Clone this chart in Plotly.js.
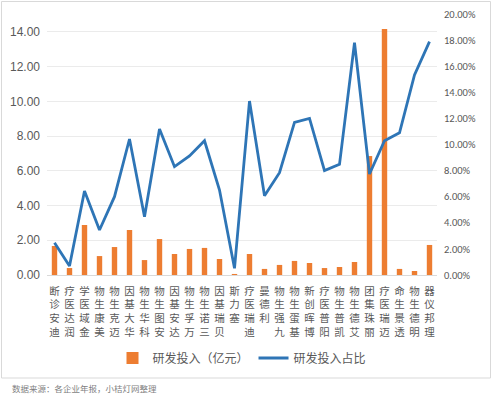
<!DOCTYPE html>
<html>
<head>
<meta charset="utf-8">
<script src="https://cdn.plot.ly/plotly-3.0.1.min.js"></script>
<style>
html,body{margin:0;padding:0;background:#fff;}
#chart{width:493px;height:398px;}
</style>
</head>
<body>
<div id="chart"></div>
<script>
var companies = ["迪安诊断","润达医疗","金域医学","美康生物","迈克生物","华大基因","科华生物","安图生物","达安基因","万孚生物","三诺生物","贝瑞基因","塞力斯","迪瑞医疗","利德曼","九强生物","基蛋生物","博晖创新","阳普医疗","凯普生物","艾德生物","丽珠集团","迈瑞医疗","透景生命","明德生物","理邦仪器"];
var rdInvest = [1.67,0.40,2.88,1.09,1.61,2.59,0.86,2.07,1.21,1.50,1.56,0.92,0.06,1.21,0.35,0.58,0.81,0.69,0.40,0.46,0.75,6.85,14.17,0.35,0.23,1.73];
var rdRatio = [0.0247,0.0069,0.0644,0.0345,0.0600,0.1042,0.0447,0.1119,0.0830,0.0912,0.1029,0.0651,0.0051,0.1333,0.0608,0.0784,0.1170,0.1200,0.0800,0.0848,0.1780,0.0774,0.1029,0.1090,0.1533,0.1788];
var legendNames = ["研发投入（亿元）","研发投入占比"];
var sourceNote = "数据来源：各企业年报，小桔灯网整理";

// labels are stacked upright, reading from bottom to top
var tickLabels = companies.map(function(c){ return c.split("").reverse().join("<br>"); });
var cjk = '"Noto Sans CJK SC", "Noto Sans", sans-serif';

var traces = [
  {type:"bar", name:legendNames[0], x:companies, y:rdInvest, yaxis:"y",
   marker:{color:"#ED7D31"}, width:0.36},
  {type:"scatter", mode:"lines", name:legendNames[1], x:companies, y:rdRatio, yaxis:"y2",
   line:{color:"#2E75B6", width:2.8}}
];

var L=47, R=56, T=14, B=123, W=493, H=398;
var pw=W-L-R, ph=H-T-B;
function px(x){return (x-L)/pw;}
function py(y){return (H-B-y)/ph;}

var layout = {
  width:W, height:H,
  margin:{l:L, r:R, t:T, b:B, pad:0},
  paper_bgcolor:"#fff", plot_bgcolor:"#fff",
  showlegend:true,
  legend:{orientation:"h", x:0.5, xanchor:"center", y:py(358), yanchor:"middle",
          font:{family:cjk, size:12, color:"#595959"}, itemwidth:30, traceorder:"normal"},
  xaxis:{type:"category", tickmode:"array", tickvals:companies, ticktext:tickLabels,
         tickangle:0, tickfont:{family:cjk, size:10.5, color:"#595959"},
         showline:true, linecolor:"#D9D9D9", linewidth:1, ticks:"", showgrid:false,
         ticklabelstandoff:6,
         range:[-0.5, companies.length-0.5], fixedrange:true},
  yaxis:{range:[0,15.03], dtick:2, tick0:0, tickformat:".2f",
         tickfont:{family:'"Liberation Sans", Arial, sans-serif', size:12, color:"#595959"},
         showgrid:true, gridcolor:"#EBEBEB", gridwidth:1, zeroline:false, showline:false,
         ticks:"", ticklabelstandoff:6},
  yaxis2:{overlaying:"y", side:"right", range:[0,0.20], dtick:0.02, tick0:0, tickformat:".2%",
          tickfont:{family:'Carlito, Lato, "Open Sans", sans-serif', size:10.5, color:"#595959"},
          showgrid:false, zeroline:false, showline:false, ticks:"", ticklabelstandoff:6},
  shapes:[{type:"rect", xref:"paper", yref:"paper", x0:px(1.5), x1:px(490.5), y0:py(1.5), y1:py(378),
           line:{color:"#D9D9D9", width:1}, fillcolor:"rgba(0,0,0,0)", layer:"below"}],
  annotations:[{text:sourceNote, xref:"paper", yref:"paper", x:px(10), y:py(388),
                xanchor:"left", yanchor:"middle", showarrow:false,
                font:{family:cjk, size:8.5, color:"#7F7F7F"}}]
};

Plotly.newPlot("chart", traces, layout, {displayModeBar:false, staticPlot:true});
</script>
</body>
</html>
